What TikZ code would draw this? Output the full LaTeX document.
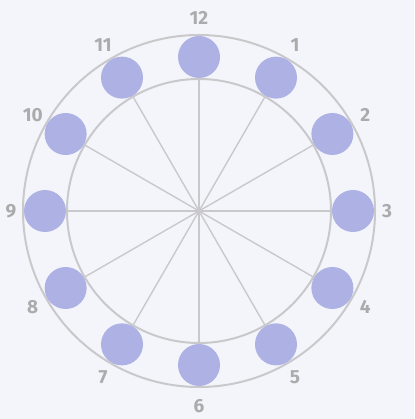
\documentclass[tikz,border=0pt]{standalone}
\usepackage{fontspec}
\setmainfont{Fira Sans}
\usetikzlibrary{positioning}
\definecolor{bg-fill}{HTML}{F4F5FA}
\definecolor{ring-gray}{HTML}{C9C9CC}
\definecolor{dot-blue}{HTML}{ADB1E3}
\definecolor{lbl-gray}{HTML}{ABABAE}
\tikzset{
  ring/.style={draw=ring-gray,line width=2pt},
  spoke/.style={draw=ring-gray,line width=1.4pt},
  hour-dot/.style={circle,fill=dot-blue,minimum size=42pt,inner sep=0pt},
  hour-lbl/.style={text=lbl-gray,font=\fontsize{19}{19}\selectfont\bfseries,inner sep=0pt},
}

\begin{document}
\begin{tikzpicture}[x=1pt,y=1pt]

  \fill[bg-fill] (-199,-208) rectangle (215,211);
  \useasboundingbox (-199,-208) rectangle (215,211);

  \coordinate (c) at (0,0);

  % RINGS
  \draw[ring] (c) circle (176);
  \draw[ring] (c) circle (132);

  % DOTS
  \node[hour-dot] (d12) at (90:154)  {};
  \node[hour-dot] (d1)  at (60:154)  {};
  \node[hour-dot] (d2)  at (30:154)  {};
  \node[hour-dot] (d3)  at (0:154)   {};
  \node[hour-dot] (d4)  at (-30:154) {};
  \node[hour-dot] (d5)  at (-60:154) {};
  \node[hour-dot] (d6)  at (-90:154) {};
  \node[hour-dot] (d7)  at (-120:154) {};
  \node[hour-dot] (d8)  at (-150:154) {};
  \node[hour-dot] (d9)  at (180:154) {};
  \node[hour-dot] (d10) at (150:154) {};
  \node[hour-dot] (d11) at (120:154) {};

  % SPOKES
  \draw[spoke] (c) -- (d12);
  \draw[spoke] (c) -- (d1);
  \draw[spoke] (c) -- (d2);
  \draw[spoke] (c) -- (d3);
  \draw[spoke] (c) -- (d4);
  \draw[spoke] (c) -- (d5);
  \draw[spoke] (c) -- (d6);
  \draw[spoke] (c) -- (d7);
  \draw[spoke] (c) -- (d8);
  \draw[spoke] (c) -- (d9);
  \draw[spoke] (c) -- (d10);
  \draw[spoke] (c) -- (d11);

  % LABELS
  \node[hour-lbl] (l12) at (90:193)  {12};
  \node[hour-lbl] (l1)  at (60:192)  {1};
  \node[hour-lbl] (l2)  at (30:192)  {2};
  \node[hour-lbl] (l3)  at (0:188)   {3};
  \node[hour-lbl] (l4)  at (-30:192) {4};
  \node[hour-lbl] (l5)  at (-60:192) {5};
  \node[hour-lbl] (l6)  at (-90:195) {6};
  \node[hour-lbl] (l7)  at (-120:192) {7};
  \node[hour-lbl] (l8)  at (-150:192) {8};
  \node[hour-lbl] (l9)  at (180:188) {9};
  \node[hour-lbl] (l10) at (150:192) {10};
  \node[hour-lbl] (l11) at (120:192) {11};

\end{tikzpicture}
\end{document}
